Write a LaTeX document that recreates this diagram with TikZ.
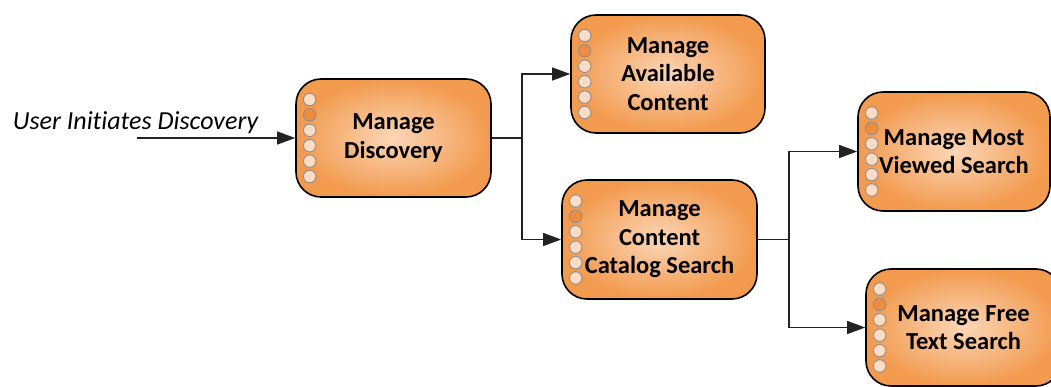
\documentclass[tikz,border=0pt]{standalone}
\usepackage{fontspec}
\setmainfont{Carlito}[Ligatures=NoCommon]
\usetikzlibrary{arrows.meta,calc}

\definecolor{boxin}{HTML}{FBD6B7}
\definecolor{boxout}{HTML}{F29A4E}
\definecolor{dotlight}{HTML}{FCDCC4}
\definecolor{dotdark}{HTML}{EE8C40}
\definecolor{dotrim}{HTML}{8E8E8E}
\definecolor{wire}{HTML}{222222}

\tikzset{
  procbox/.style={draw=black, line width=1.6pt, rounded corners=25pt,
    inner color=boxin, outer color=boxout,
    minimum width=195pt, minimum height=118pt, inner sep=0pt,
    align=center, font=\fontsize{24.5}{28.5}\selectfont\bfseries},
  dotlite/.style={circle, draw=dotrim, line width=0.9pt, fill=dotlight,
    minimum size=12.5pt, inner sep=0pt},
  dotfull/.style={dotlite, fill=dotdark},
  wireline/.style={draw=wire, line width=1.1pt},
  flowarrow/.style={wireline, -{Triangle[length=18pt,width=13pt]}},
  inlabel/.style={font=\fontsize{26}{30}\selectfont\itshape, inner sep=0pt}
}

% six status dots down the left edge of a box, the second one filled
\newcommand{\statusdots}[1]{%
  \foreach \k/\st in {0/dotlite,1/dotfull,2/dotlite,3/dotlite,4/dotlite,5/dotlite}
    \node[\st] at ($(#1.west)+(14.5,{-38.5+15.4*\k})$) {};%
}

\begin{document}
\begin{tikzpicture}[x=1pt,y=-1pt]
  \useasboundingbox (0,0) rectangle (1051,387);
  \clip (0,0) rectangle (1051,387);

  % process boxes
  \node[procbox] (disc)    at (393.5,138)   {Manage\\Discovery};
  \node[procbox, minimum width=194pt] (avail) at (668,74) {Manage\\Available\\Content};
  \node[procbox, minimum height=119pt] (catalog) at (659.5,239.5) {Manage\\Content\\Catalog Search};
  \node[procbox, minimum width=192pt, minimum height=119pt] (viewed) at (954,151.5) {Manage Most\\Viewed Search};
  \node[procbox, minimum height=117pt] (free)   at (963.5,327.5) {Manage Free\\Text Search};

  \statusdots{disc}
  \statusdots{avail}
  \statusdots{catalog}
  \statusdots{viewed}
  \statusdots{free}

  % incoming trigger
  \coordinate (start) at (137,138);
  \node[inlabel] (trigger) at (135.5,123) {User Initiates Discovery};
  \draw[flowarrow] (start) -- (disc.west);

  % branch from discovery
  \coordinate (j1) at (522,138);
  \draw[wireline] (disc.east) -- (j1);
  \draw[flowarrow] (j1) |- (avail.west);
  \draw[flowarrow] (j1) |- (catalog.west);

  % branch from catalog search
  \coordinate (j2) at (789,239.5);
  \draw[wireline] (catalog.east) -- (j2);
  \draw[flowarrow] (j2) |- (viewed.west);
  \draw[flowarrow] (j2) |- (free.west);
\end{tikzpicture}
\end{document}
